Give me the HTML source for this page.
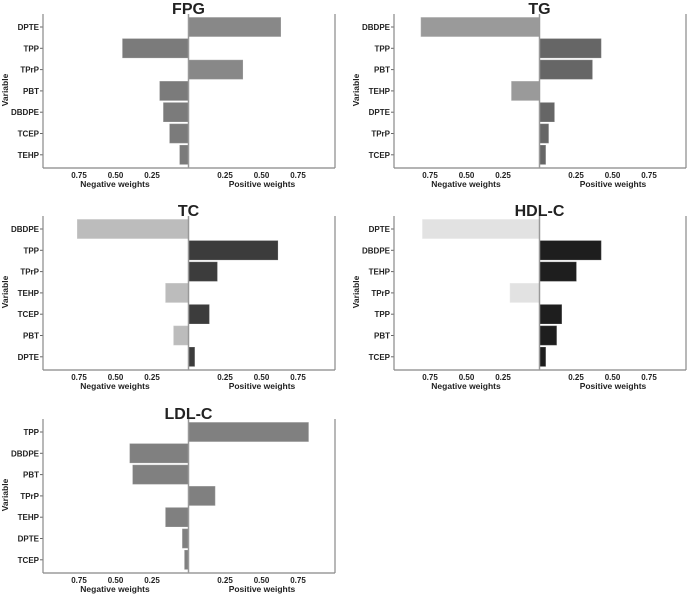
<!DOCTYPE html>
<html><head><meta charset="utf-8"><style>
html,body{margin:0;padding:0;background:#fff;width:688px;height:597px;overflow:hidden}
svg{display:block}
text{font-family:"Liberation Sans",Arial,sans-serif;font-weight:bold;fill:#222}
</style></head><body>
<svg id="s" width="688" height="597" xmlns="http://www.w3.org/2000/svg"></svg>
<script>
var panels=[
 {t:"FPG",dx:0,dy:0,neg:"#7b7b7b",pos:"#888",rows:[["DPTE",0.63],["TPP",-0.45],["TPrP",0.37],["PBT",-0.195],["DBDPE",-0.17],["TCEP",-0.127],["TEHP",-0.058]]},
 {t:"TG",dx:351,dy:0,neg:"#9a9a9a",pos:"#666",rows:[["DBDPE",-0.81],["TPP",0.42],["PBT",0.36],["TEHP",-0.19],["DPTE",0.10],["TPrP",0.06],["TCEP",0.04]]},
 {t:"TC",dx:0,dy:202,neg:"#bcbcbc",pos:"#3c3c3c",rows:[["DBDPE",-0.76],["TPP",0.61],["TPrP",0.195],["TEHP",-0.155],["TCEP",0.14],["PBT",-0.10],["DPTE",0.04]]},
 {t:"HDL-C",dx:351,dy:202,neg:"#e2e2e2",pos:"#1e1e1e",rows:[["DPTE",-0.80],["DBDPE",0.42],["TEHP",0.25],["TPrP",-0.20],["TPP",0.15],["PBT",0.115],["TCEP",0.04]]},
 {t:"LDL-C",dx:0,dy:405,neg:"#808080",pos:"#808080",rows:[["TPP",0.82],["DBDPE",-0.40],["PBT",-0.38],["TPrP",0.18],["TEHP",-0.155],["DPTE",-0.04],["TCEP",-0.025]]}
];
var h="";
panels.forEach(function(p){
 var L=43+p.dx,C=188.5+p.dx,R=335+p.dx,T=14+p.dy,B=168+p.dy,S=146;
 h+='<text x="'+C+'" y="'+(14+p.dy)+'" font-size="16" text-anchor="middle">'+p.t+'</text>';
 p.rows.forEach(function(r,i){
  var y=27+p.dy+i*21.3,v=r[1],w=Math.abs(v)*S;
  var x=v<0?C-w:C;
  h+='<rect x="'+x+'" y="'+(y-9.3)+'" width="'+w+'" height="18.6" fill="'+(v<0?p.neg:p.pos)+'" stroke="'+(v<0?p.neg:p.pos)+'" stroke-opacity="0.8"/>';
  h+='<line x1="'+(L-3)+'" x2="'+L+'" y1="'+y+'" y2="'+y+'" stroke="#666"/>';
  h+='<text x="'+(L-4)+'" y="'+(y+3)+'" font-size="8" text-anchor="end">'+r[0]+'</text>';
 });
 h+='<line x1="'+L+'" x2="'+L+'" y1="'+T+'" y2="'+B+'" stroke="#888" stroke-width="1.2"/>';
 h+='<line x1="'+R+'" x2="'+R+'" y1="'+T+'" y2="'+B+'" stroke="#888" stroke-width="1.2"/>';
 h+='<line x1="'+L+'" x2="'+R+'" y1="'+B+'" y2="'+B+'" stroke="#888" stroke-width="1.2"/>';
 h+='<line x1="'+C+'" x2="'+C+'" y1="'+T+'" y2="'+B+'" stroke="#999" stroke-width="1.5"/>';
 ["0.75","0.50","0.25"].forEach(function(s,k){var d=(0.75-0.25*k)*S;
  h+='<text x="'+(C-d)+'" y="'+(B+10)+'" font-size="8" text-anchor="middle">'+s+'</text>';
  h+='<text x="'+(C+(0.25+0.25*k)*S)+'" y="'+(B+10)+'" font-size="8" text-anchor="middle">'+["0.25","0.50","0.75"][k]+'</text>';});
 h+='<text x="'+(115+p.dx)+'" y="'+(B+19)+'" font-size="8.5" text-anchor="middle">Negative weights</text>';
 h+='<text x="'+(262+p.dx)+'" y="'+(B+19)+'" font-size="8.5" text-anchor="middle">Positive weights</text>';
 h+='<text transform="translate('+(8+p.dx)+','+(90+p.dy)+') rotate(-90)" font-size="8.5" text-anchor="middle">Variable</text>';
});
document.getElementById("s").innerHTML=h;
</script>
</body></html>
